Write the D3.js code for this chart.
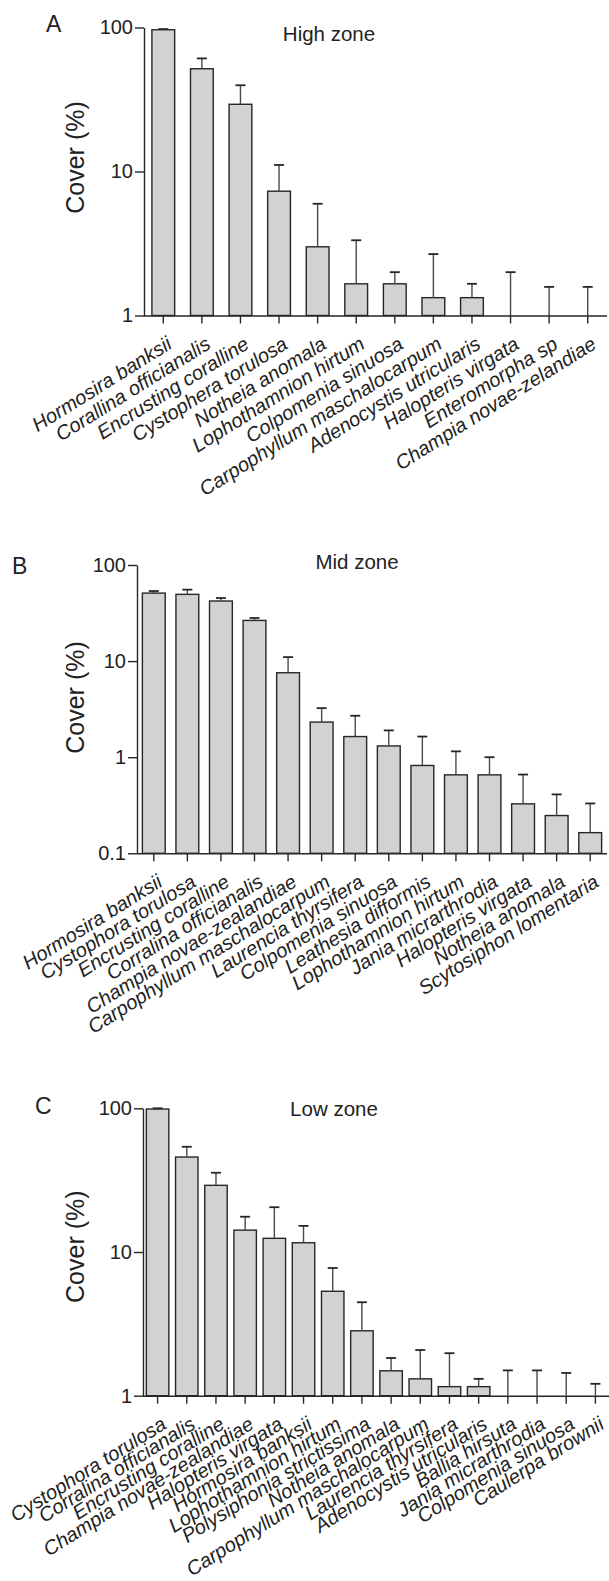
<!DOCTYPE html>
<html><head><meta charset="utf-8">
<script src="https://cdn.jsdelivr.net/npm/d3@7"></script>
<style>
html,body{margin:0;padding:0;background:#fff;}
svg text{font-family:"Liberation Sans",Arial,Helvetica,sans-serif;fill:#222;}
</style></head>
<body>
<svg id="chart" width="609" height="1581"></svg>
<script>
// ---------- DATA ----------
const catsA = ["Hormosira banksii","Corallina officianalis","Encrusting coralline","Cystophera torulosa","Notheia anomala","Lophothamnion hirtum","Colpomenia sinuosa","Carpophyllum maschalocarpum","Adenocystis utricularis","Halopteris virgata","Enteromorpha sp","Champia novae-zelandiae"];
const meanA = [96.5, 51.7, 29.3, 7.3, 3.0, 1.66, 1.66, 1.33, 1.33, 1, 1, 1];
const seA   = [1.0, 9.3, 10.4, 3.8, 2.97, 1.67, 0.34, 1.34, 0.33, 1.0, 0.58, 0.58];

const catsB = ["Hormosira banksii","Cystophora torulosa","Encrusting coralline","Corralina officianalis","Champia novae-zealandiae","Carpophyllum maschalocarpum","Laurencia thyrsifera","Colpomenia sinuosa","Leathesia difformis","Lophothamnion hirtum","Jania micrarthrodia","Halopteris virgata","Notheia anomala","Scytosiphon lomentaria"];
const meanB = [51, 49.5, 42.2, 26.5, 7.57, 2.32, 1.64, 1.31, 0.82, 0.655, 0.655, 0.327, 0.247, 0.164];
const seB   = [2.6, 5.9, 3.1, 1.6, 3.43, 0.92, 1.06, 0.59, 0.82, 0.495, 0.345, 0.333, 0.163, 0.166];

const catsC = ["Cystophora torulosa","Corralina officianalis","Encrusting coralline","Champia novae-zealandiae","Halopteris virgata","Hormosira banksii","Lophothamnion hirtum","Polysiphonia strictissima","Notheia anomala","Carpophyllum maschalocarpum","Laurencia thyrsifera","Adenocystis utricularis","Ballia hirsuta","Jania micrarthrodia","Colpomenia sinuosa","Caulerpa brownii"];
const meanC = [98.9, 45.8, 29.1, 14.2, 12.45, 11.6, 5.33, 2.83, 1.49, 1.31, 1.156, 1.156, 1, 1, 1, 1];
const seC   = [1.6, 8.2, 6.5, 3.4, 8.05, 3.6, 2.41, 1.64, 0.34, 0.77, 0.82, 0.154, 0.5, 0.5, 0.44, 0.21];

const ticksA = [1, 10, 100];
const ticksB = [0.1, 1, 10, 100];
const ticksC = [1, 10, 100];

const titles = ["High zone", "Mid zone", "Low zone"];
const letters = ["A", "B", "C"];
const yTitle = "Cover (%)";

// ---------- LAYOUT ----------
const panels = [
  {cats:catsA, mean:meanA, se:seA, ticks:ticksA, letter:letters[0], title:titles[0],
   x0:144, x1:607, yTop:27.5, yBot:315.5, dom:[1,100], pad:0.41,
   letterPos:[46, 32.3], titlePos:[329, 41], yLabPos:[84, 157.5]},
  {cats:catsB, mean:meanB, se:seB, ticks:ticksB, letter:letters[1], title:titles[1],
   x0:137, x1:607, yTop:565, yBot:853.3, dom:[0.1,100], pad:0.32,
   letterPos:[12, 574], titlePos:[357, 569], yLabPos:[84, 697.5]},
  {cats:catsC, mean:meanC, se:seC, ticks:ticksC, letter:letters[2], title:titles[2],
   x0:143, x1:610, yTop:1108.3, yBot:1395.7, dom:[1,100], pad:0.23,
   letterPos:[35, 1114.3], titlePos:[334, 1115.5], yLabPos:[84, 1246.7]}
];

const svg = d3.select("#chart");
const ink = "#262626";

panels.forEach(p => {
  const g = svg.append("g");
  const x = d3.scaleBand().domain(p.cats).range([p.x0, p.x1])
    .paddingInner(p.pad).paddingOuter(p.pad/2);
  const y = d3.scaleLog().domain(p.dom).range([p.yBot, p.yTop]).clamp(true);

  // bars
  const data = p.cats.map((c,i) => ({c, m:p.mean[i], s:p.se[i]}));
  g.selectAll("rect.bar").data(data.filter(d => d.m > p.dom[0])).join("rect")
    .attr("class","bar")
    .attr("x", d => x(d.c))
    .attr("width", x.bandwidth())
    .attr("y", d => y(d.m))
    .attr("height", d => p.yBot - y(d.m))
    .attr("fill", "#d1d2d4")
    .attr("stroke", ink)
    .attr("stroke-width", 1.4);

  // error bars
  const cap = 10;
  g.selectAll("line.err").data(data).join("line")
    .attr("class","err")
    .attr("x1", d => x(d.c) + x.bandwidth()/2)
    .attr("x2", d => x(d.c) + x.bandwidth()/2)
    .attr("y1", d => y(d.m))
    .attr("y2", d => y(d.m + d.s))
    .attr("stroke", "#4a4a4a").attr("stroke-width", 1.4);
  g.selectAll("line.cap").data(data).join("line")
    .attr("class","cap")
    .attr("x1", d => x(d.c) + x.bandwidth()/2 - cap/2)
    .attr("x2", d => x(d.c) + x.bandwidth()/2 + cap/2)
    .attr("y1", d => y(d.m + d.s))
    .attr("y2", d => y(d.m + d.s))
    .attr("stroke", ink).attr("stroke-width", 1.8);

  // y axis
  const ya = g.append("g").attr("transform", `translate(${p.x0},0)`)
    .call(d3.axisLeft(y).tickValues(p.ticks).tickSize(9).tickSizeOuter(0).tickPadding(2)
      .tickFormat(d => String(d)));
  ya.selectAll("path,line").attr("stroke", ink).attr("stroke-width", 1.4);
  ya.selectAll("text").attr("font-size", 20).attr("fill", "#222")
    .style("font-family", '"Liberation Sans",Arial,Helvetica,sans-serif');

  // x axis
  const xa = g.append("g").attr("transform", `translate(0,${p.yBot})`)
    .call(d3.axisBottom(x).tickSize(8).tickSizeOuter(0).tickFormat(""));
  xa.selectAll("path,line").attr("stroke", ink).attr("stroke-width", 1.4);
  xa.select("path.domain").attr("d", `M${p.x0},0.5H${p.x1}`);

  // category labels
  g.selectAll("text.cat").data(p.cats).join("text")
    .attr("class","cat")
    .attr("text-anchor","end")
    .attr("font-size", 20)
    .attr("font-style","italic")
    .attr("transform", d => `translate(${x(d) + x.bandwidth()/2 + 10},${p.yBot + 32}) rotate(-32)`)
    .text(d => d);

  // titles
  g.append("text").attr("x", p.titlePos[0]).attr("y", p.titlePos[1])
    .attr("text-anchor","middle").attr("font-size", 20.5).text(p.title);
  g.append("text").attr("x", p.letterPos[0]).attr("y", p.letterPos[1])
    .attr("font-size", 23).text(p.letter);
  g.append("text")
    .attr("transform", `translate(${p.yLabPos[0]},${p.yLabPos[1]}) rotate(-90)`)
    .attr("text-anchor","middle").attr("font-size", 25).text(yTitle);
});
</script>
</body></html>
